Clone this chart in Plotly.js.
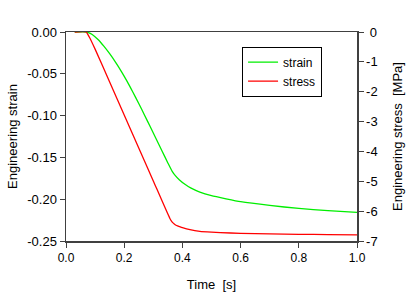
<!DOCTYPE html>
<html>
<head>
<meta charset="utf-8">
<script src="https://cdn.plot.ly/plotly-3.0.1.min.js"></script>
<style>html,body{margin:0;padding:0;background:#fff}#chart{width:407px;height:292px}</style>
</head>
<body>
<div id="chart"></div>
<script>
// Strain curve (left axis)
var strainTime = [0.03, 0.071, 0.09, 0.11, 0.13, 0.15, 0.17, 0.19, 0.21, 0.23, 0.25, 0.27, 0.29, 0.31, 0.33, 0.35, 0.365, 0.375, 0.39, 0.41, 0.43, 0.46, 0.50, 0.55, 0.60, 0.70, 0.80, 0.90, 1.0];
var strainVals = [0, 0, -0.003, -0.009, -0.017, -0.026, -0.036, -0.047, -0.059, -0.072, -0.0855, -0.0995, -0.1137, -0.128, -0.1423, -0.1566, -0.1668, -0.1715, -0.177, -0.1825, -0.1868, -0.1915, -0.1957, -0.1995, -0.203, -0.2075, -0.211, -0.2137, -0.2157];
// Stress curve (right axis, MPa)
var stressTime = [0.03, 0.069, 0.08, 0.10, 0.15, 0.20, 0.25, 0.30, 0.357, 0.365, 0.372, 0.38, 0.39, 0.40, 0.426, 0.46, 0.50, 0.53, 0.60, 0.70, 0.80, 0.90, 1.0];
var stressVals = [0, 0, -0.168, -0.574, -1.677, -2.780, -3.884, -4.987, -6.244, -6.37, -6.43, -6.482, -6.518, -6.552, -6.622, -6.678, -6.706, -6.72, -6.742, -6.762, -6.776, -6.787, -6.798];

var leftTicks = [0, -0.05, -0.10, -0.15, -0.20, -0.25];
var leftTickText = ['0.00', '-0.05', '-0.10', '-0.15', '-0.20', '-0.25'];
var rightTicks = [0, -1, -2, -3, -4, -5, -6, -7];
var rightTickText = ['\u20080', '-1', '-2', '-3', '-4', '-5', '-6', '-7'];
var xTicks = [0, 0.2, 0.4, 0.6, 0.8, 1.0];
var xTickText = ['0.0', '0.2', '0.4', '0.6', '0.8', '1.0'];

var axisColor = 'rgb(64,64,64)';
var fam = 'Liberation Sans, Arial, sans-serif';
var font = {family: fam, size: 12, color: '#000'};

var traces = [
  {x: strainTime, y: strainVals, name: 'strain', mode: 'lines', line: {color: '#00ee00', width: 1.3, shape: 'spline', smoothing: 0.5}, yaxis: 'y'},
  {x: stressTime, y: stressVals, name: 'stress', mode: 'lines', line: {color: '#ff0000', width: 1.3, shape: 'spline', smoothing: 0.5}, yaxis: 'y2'}
];

var layout = {
  width: 407, height: 292,
  margin: {l: 66, r: 50, t: 32, b: 51, pad: 0},
  paper_bgcolor: '#fff', plot_bgcolor: '#fff',
  font: font,
  showlegend: true,
  legend: {x: 0.605, y: 0.93, xanchor: 'left', yanchor: 'top', bordercolor: '#000', borderwidth: 1,
           bgcolor: '#fff', font: {family: fam, size: 12, color: '#000'}, tracegroupgap: 0},
  xaxis: {range: [0, 1.0], tickvals: xTicks, ticktext: xTickText, ticks: 'outside', ticklen: 5, tickwidth: 1,
          tickcolor: axisColor, showline: true, linecolor: axisColor, linewidth: 1.5, mirror: true,
          showgrid: false, zeroline: false, tickfont: {family: fam, size: 12},
          title: {text: 'Time  [s]', font: {family: fam, size: 13}, standoff: 18}},
  yaxis: {range: [-0.25, 0], tickvals: leftTicks, ticktext: leftTickText, ticks: 'outside', ticklen: 5, tickwidth: 1,
          tickcolor: axisColor, showline: true, linecolor: axisColor, linewidth: 1.5,
          showgrid: false, zeroline: false, tickfont: {family: fam, size: 13},
          title: {text: 'Engineering strain', font: {family: fam, size: 13}, standoff: 6}},
  yaxis2: {range: [-7, 0], tickvals: rightTicks, ticktext: rightTickText, overlaying: 'y', side: 'right',
           ticks: 'outside', ticklen: 5, tickwidth: 1, tickcolor: axisColor, showline: true, linecolor: axisColor,
           linewidth: 1.5, showgrid: false, zeroline: false, tickfont: {family: fam, size: 13},
           title: {text: 'Engineering stress  [MPa]', font: {family: fam, size: 13}, standoff: 16}}
};

Plotly.newPlot('chart', traces, layout, {displayModeBar: false, staticPlot: true});
</script>
</body>
</html>
